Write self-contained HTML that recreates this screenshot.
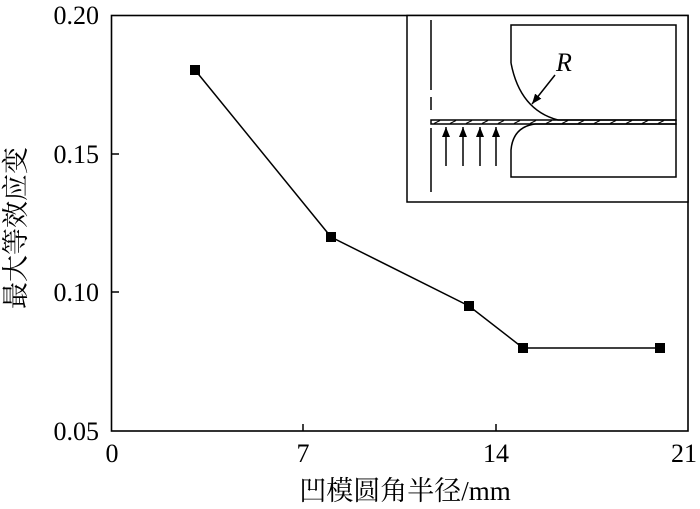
<!DOCTYPE html>
<html><head><meta charset="utf-8"><style>
html,body{margin:0;padding:0;background:#fff;}
svg{display:block;}
text{font-family:"Liberation Serif","Noto Serif CJK SC",serif;fill:#000;}
</style></head><body>
<svg width="700" height="509" viewBox="0 0 700 509" xmlns="http://www.w3.org/2000/svg">
<defs>
<marker id="ah" markerWidth="10" markerHeight="10" refX="10" refY="4" orient="auto" markerUnits="userSpaceOnUse">
<path d="M0,0 L10,4 L0,8 Z" fill="#000"/>
</marker>
</defs>
<rect x="111.5" y="15.5" width="576.5" height="415.5" fill="none" stroke="#000" stroke-width="1.6"/>
<g stroke="#000" stroke-width="1.5">
<line x1="112" y1="154" x2="119" y2="154"/>
<line x1="112" y1="292" x2="119" y2="292"/>
<line x1="303" y1="431" x2="303" y2="424"/>
<line x1="496" y1="431" x2="496" y2="424"/>
</g>
<g font-size="26" text-anchor="end">
<text x="99" y="24">0.20</text>
<text x="99" y="163">0.15</text>
<text x="99" y="301">0.10</text>
<text x="99" y="440">0.05</text>
</g>
<g font-size="26" text-anchor="middle">
<text x="112" y="462">0</text>
<text x="303" y="462">7</text>
<text x="496" y="462">14</text>
<text x="684" y="462">21</text>
</g>
<text x="405" y="500" font-size="27" text-anchor="middle">凹模圆角半径/mm</text>
<text transform="translate(25,228) rotate(-90)" font-size="27" text-anchor="middle">最大等效应变</text>
<polyline points="195,70 331,237 469,306 523,348 660,348" fill="none" stroke="#000" stroke-width="1.5"/>
<g fill="#000">
<rect x="190" y="65" width="10" height="10"/>
<rect x="326" y="232" width="10" height="10"/>
<rect x="464" y="301" width="10" height="10"/>
<rect x="518" y="343" width="10" height="10"/>
<rect x="655" y="343" width="10" height="10"/>
</g>
<rect x="407" y="15.5" width="281" height="186.5" fill="#fff" stroke="#000" stroke-width="1.5"/>
<g stroke="#000" stroke-width="1.5" fill="none">
<line x1="431" y1="20" x2="431" y2="90"/>
<line x1="431" y1="97" x2="431" y2="110"/>
<line x1="431" y1="128" x2="431" y2="192"/>
<path d="M511,63 L511,25 L676,25 L676,120 L558,120 Q520,110 511,63"/>
<path d="M535,124 L676,124 L676,177 L511,177 L511,150 Q513,127 535,124"/>
<rect x="431" y="120" width="245" height="4"/>
<line x1="555" y1="75" x2="532" y2="104" marker-end="url(#ah)"/>
<line x1="446" y1="166" x2="446" y2="127" marker-end="url(#ah)"/>
<line x1="463" y1="166" x2="463" y2="127" marker-end="url(#ah)"/>
<line x1="480" y1="166" x2="480" y2="127" marker-end="url(#ah)"/>
<line x1="496" y1="166" x2="496" y2="127" marker-end="url(#ah)"/>
</g>
<g stroke="#000" stroke-width="1">
<path d="M434,123.5 l6,-3 M450,123.5 l6,-3 M466,123.5 l6,-3 M482,123.5 l6,-3 M498,123.5 l6,-3 M514,123.5 l6,-3 M530,123.5 l6,-3 M546,123.5 l6,-3 M562,123.5 l6,-3 M578,123.5 l6,-3 M594,123.5 l6,-3 M610,123.5 l6,-3 M626,123.5 l6,-3 M642,123.5 l6,-3 M658,123.5 l6,-3"/>
</g>
<text x="556" y="71" font-size="26" font-style="italic">R</text>
</svg>
</body></html>
